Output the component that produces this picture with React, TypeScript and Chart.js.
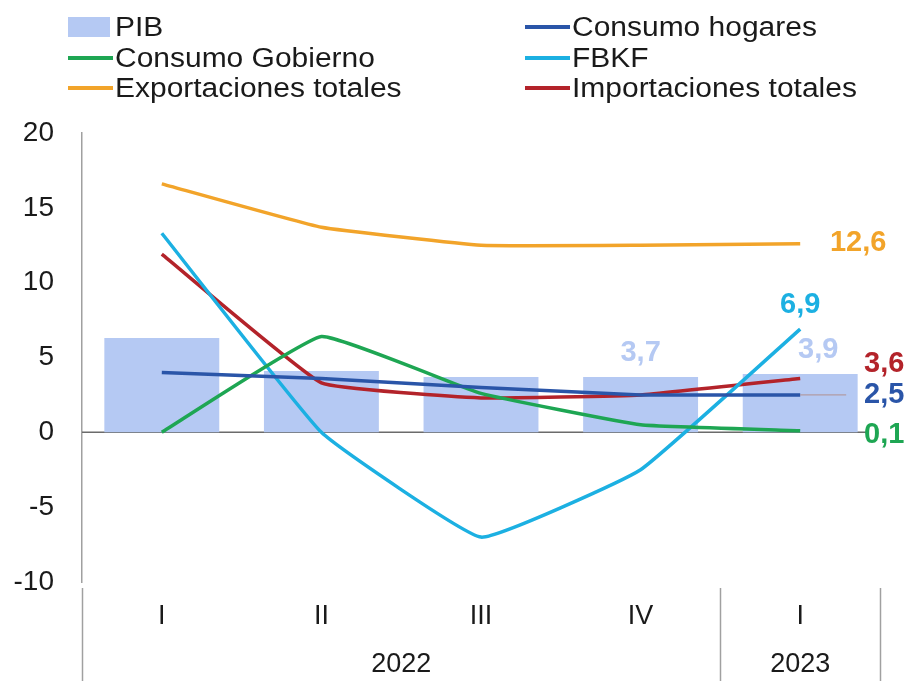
import React, { useEffect, useRef } from "react";
import { Chart, registerables } from "chart.js";

Chart.register(...registerables);

const categories = ["I", "II", "III", "IV", "I"];
const years = [
  { label: "2022", from: 0, to: 3 },
  { label: "2023", from: 4, to: 4 },
];
const pib = [6.3, 4.1, 3.7, 3.7, 3.9];
const consumoHogares = [4.0, 3.6, 3.0, 2.5, 2.5];
const consumoGobierno = [0.0, 6.4, 2.6, 0.5, 0.1];
const fbkf = [13.3, 0.0, -7.0, -2.5, 6.9];
const exportaciones = [16.6, 13.7, 12.5, 12.5, 12.6];
const importaciones = [11.9, 3.3, 2.3, 2.5, 3.6];
const yTicks = [-10, -5, 0, 5, 10, 15, 20];

const C_PIB = "#b5c9f3";
const C_HOG = "#2a55a8";
const C_GOB = "#1ea653";
const C_FBKF = "#1cb0e2";
const C_EXP = "#f2a42a";
const C_IMP = "#b3232a";

const FONT = "'Liberation Sans', Arial, sans-serif";

const fmt = (v: number) => v.toFixed(1).replace(".", ",");

const legendItems = [
  { label: "PIB", color: C_PIB, box: true, col: 0, row: 0 },
  { label: "Consumo hogares", color: C_HOG, box: false, col: 1, row: 0 },
  { label: "Consumo Gobierno", color: C_GOB, box: false, col: 0, row: 1 },
  { label: "FBKF", color: C_FBKF, box: false, col: 1, row: 1 },
  { label: "Exportaciones totales", color: C_EXP, box: false, col: 0, row: 2 },
  { label: "Importaciones totales", color: C_IMP, box: false, col: 1, row: 2 },
];

const overlayPlugin = {
  id: "overlay",
  beforeDatasetsDraw(chart: any) {
    const { ctx, chartArea, scales } = chart;
    const y0 = scales.y.getPixelForValue(0);
    ctx.save();
    ctx.strokeStyle = "#6b6b6b";
    ctx.lineWidth = 1.5;
    ctx.beginPath();
    ctx.moveTo(chartArea.left, y0);
    ctx.lineTo(chartArea.right - 12, y0);
    ctx.stroke();
    ctx.restore();
  },
  afterDraw(chart: any) {
    const { ctx, chartArea, scales } = chart;
    const x = scales.x;
    const y = scales.y;
    ctx.save();
    const half = (x.getPixelForValue(1) - x.getPixelForValue(0)) / 2;
    const seps = [chartArea.left, x.getPixelForValue(3) + half, chartArea.right];
    ctx.strokeStyle = "#a0a0a0";
    ctx.lineWidth = 1.5;
    seps.forEach((sx: number) => {
      ctx.beginPath();
      ctx.moveTo(Math.round(sx) + 0.5, chartArea.bottom + 6);
      ctx.lineTo(Math.round(sx) + 0.5, chart.height);
      ctx.stroke();
    });
    ctx.fillStyle = "#1a1a1a";
    ctx.font = `27px ${FONT}`;
    ctx.textAlign = "center";
    ctx.textBaseline = "middle";
    years.forEach((yr) => {
      const a = x.getPixelForValue(yr.from) - half;
      const b = x.getPixelForValue(yr.to) + half;
      ctx.fillText(yr.label, (a + b) / 2, 665);
    });
    const last = categories.length - 1;
    const lx = x.getPixelForValue(last);
    ctx.strokeStyle = "#b09090";
    ctx.lineWidth = 1;
    ctx.beginPath();
    ctx.moveTo(lx, y.getPixelForValue(consumoHogares[last]));
    ctx.lineTo(lx + 46, y.getPixelForValue(consumoHogares[last]));
    ctx.stroke();
    ctx.font = `bold 29px ${FONT}`;
    const lab = (v: number, color: string, px: number, py: number) => {
      ctx.fillStyle = color;
      ctx.fillText(fmt(v), px, py);
    };
    lab(exportaciones[last], C_EXP, lx + 58, y.getPixelForValue(exportaciones[last]) - 1);
    lab(fbkf[last], C_FBKF, lx, y.getPixelForValue(fbkf[last]) - 24);
    lab(pib[last], C_PIB, lx + 18, y.getPixelForValue(pib[last]) - 24);
    lab(pib[3], C_PIB, x.getPixelForValue(3), y.getPixelForValue(pib[3]) - 24);
    lab(importaciones[last], C_IMP, lx + 84, y.getPixelForValue(importaciones[last]) - 14);
    lab(consumoHogares[last], C_HOG, lx + 84, y.getPixelForValue(consumoHogares[last]));
    lab(consumoGobierno[last], C_GOB, lx + 84, y.getPixelForValue(consumoGobierno[last]) + 4);
    ctx.restore();
  },
};

function lineDs(label: string, data: number[], color: string) {
  return {
    type: "line" as const,
    label,
    data,
    borderColor: color,
    backgroundColor: color,
    borderWidth: 3.5,
    pointRadius: 0,
    tension: 0.1,
    order: 1,
  };
}

export default function App() {
  const ref = useRef<HTMLCanvasElement | null>(null);
  useEffect(() => {
    if (!ref.current) return;
    const chart = new Chart(ref.current, {
      type: "bar",
      data: {
        labels: categories,
        datasets: [
          {
            type: "bar",
            label: "PIB",
            data: pib,
            backgroundColor: C_PIB,
            barPercentage: 0.8,
            categoryPercentage: 0.9,
            order: 10,
          },
          lineDs("Consumo hogares", consumoHogares, C_HOG),
          lineDs("Consumo Gobierno", consumoGobierno, C_GOB),
          lineDs("FBKF", fbkf, C_FBKF),
          lineDs("Exportaciones totales", exportaciones, C_EXP),
          lineDs("Importaciones totales", importaciones, C_IMP),
        ] as any,
      },
      options: {
        animation: false,
        responsive: false,
        layout: { padding: { top: 133, right: 27, left: 0, bottom: 0 } },
        plugins: { legend: { display: false }, tooltip: { enabled: false } },
        scales: {
          x: {
            grid: { display: false, drawTicks: false },
            border: { display: false },
            ticks: {
              color: "#1a1a1a",
              font: { family: FONT, size: 27 },
              padding: 18,
              maxRotation: 0,
            },
            afterFit: (s: any) => {
              s.height = 99;
            },
          },
          y: {
            min: -10,
            max: 20,
            afterBuildTicks: (s: any) => {
              s.ticks = yTicks.map((v) => ({ value: v }));
            },
            grid: { display: false, drawTicks: false },
            border: { display: true, color: "#a0a0a0", width: 1.5 },
            ticks: {
              color: "#1a1a1a",
              font: { family: FONT, size: 28 },
              padding: 28,
            },
            afterFit: (s: any) => {
              s.width = 82;
            },
          },
        },
      },
      plugins: [overlayPlugin],
    });
    return () => chart.destroy();
  }, []);

  return (
    <div style={{ position: "fixed", left: 0, top: 0, width: 907, height: 681, background: "#fff" }}>
      <canvas ref={ref} width={907} height={681} style={{ position: "absolute", left: 0, top: 0 }} />
      {legendItems.map((it, i) => {
        const left = it.col === 0 ? 68 : 525;
        const top = [27, 58, 88][it.row];
        return (
          <div
            key={i}
            style={{
              position: "absolute",
              left,
              top: top - 17,
              height: 34,
              display: "flex",
              alignItems: "center",
              fontFamily: FONT,
              fontSize: 27,
              color: "#1a1a1a",
              whiteSpace: "nowrap",
            }}
          >
            <span
              style={{
                display: "inline-block",
                width: it.box ? 42 : 45,
                height: it.box ? 20 : 4,
                background: it.color,
                marginRight: it.box ? 5 : 2,
              }}
            />
            <span style={{ display: "inline-block", transform: "scaleX(1.11)", transformOrigin: "left center" }}>
              {it.label}
            </span>
          </div>
        );
      })}
    </div>
  );
}
